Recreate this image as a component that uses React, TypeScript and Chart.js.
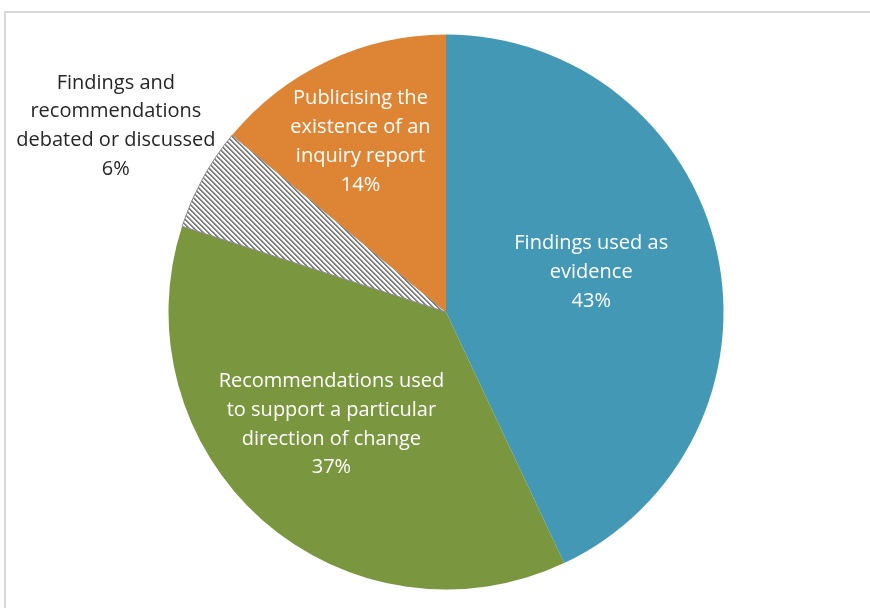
import React, { useEffect, useRef } from "react";
import { Chart, registerables } from "chart.js";

Chart.register(...registerables);

const categories = [
  "Findings used as evidence",
  "Recommendations used to support a particular direction of change",
  "Findings and recommendations debated or discussed",
  "Publicising the existence of an inquiry report",
];
const values = [43, 37, 6, 14];
const labelLines = [
  ["Findings used as", "evidence"],
  ["Recommendations used", "to support a particular", "direction of change"],
  ["Findings and", "recommendations", "debated or discussed"],
  ["Publicising the", "existence of an", "inquiry report"],
];

// label placement (style)
const labelRadius = [0.54, 0.57, 1.37, 0.69];
const labelShift = [[-1, -7], [-10, -6], [3, -3], [-4, 3]];
const labelColor = ["#ffffff", "#ffffff", "#262626", "#ffffff"];

function makeHatch(): CanvasPattern | string {
  const n = 5;
  const c = document.createElement("canvas");
  c.width = n;
  c.height = n;
  const g = c.getContext("2d");
  if (!g) return "#999";
  g.fillStyle = "#ffffff";
  g.fillRect(0, 0, n, n);
  for (let y = 0; y < n; y++) {
    for (let x = 0; x < n; x++) {
      const d = (((x - y) % n) + n) % n;
      if (d === 0 || d === 1) {
        g.fillStyle = "#7f7f7f";
        g.fillRect(x, y, 1, 1);
      } else if (d === 2) {
        g.fillStyle = "#d0d0d0";
        g.fillRect(x, y, 1, 1);
      }
    }
  }
  const p = g.createPattern(c, "repeat");
  return p || "#999";
}

const labelPlugin = {
  id: "sliceLabels",
  afterDatasetsDraw(chart: any) {
    const ctx = chart.ctx;
    const meta = chart.getDatasetMeta(0);
    const total = values.reduce((a, b) => a + b, 0);
    ctx.save();
    ctx.font = '20px "Open Sans", sans-serif';
    ctx.textAlign = "center";
    ctx.textBaseline = "middle";
    meta.data.forEach((arc: any, i: number) => {
      const p = arc.getProps(["x", "y", "startAngle", "endAngle", "outerRadius"], true);
      const mid = (p.startAngle + p.endAngle) / 2;
      const r = p.outerRadius * labelRadius[i];
      const cx = p.x + Math.cos(mid) * r + labelShift[i][0];
      const cy = p.y + Math.sin(mid) * r + labelShift[i][1];
      const lines = [...labelLines[i], Math.round((values[i] / total) * 100) + "%"];
      const lh = 28.7;
      const top = cy - ((lines.length - 1) * lh) / 2;
      ctx.fillStyle = labelColor[i];
      lines.forEach((t, k) => ctx.fillText(t, cx, top + k * lh));
    });
    ctx.restore();
  },
};

export default function App() {
  const ref = useRef<HTMLCanvasElement | null>(null);
  useEffect(() => {
    if (!ref.current) return;
    const chart = new Chart(ref.current, {
      type: "pie",
      data: {
        labels: categories,
        datasets: [
          {
            data: values,
            backgroundColor: ["#4398b6", "#7a963f", makeHatch() as any, "#dd8535"],
            borderColor: ["#4398b6", "#7a963f", "#8a8a8a", "#dd8535"],
            borderWidth: [0, 0, 1, 0],
          },
        ],
      },
      options: {
        responsive: false,
        animation: false,
        layout: { padding: { top: 34, bottom: 18, left: 100, right: 78 } },
        plugins: { legend: { display: false }, tooltip: { enabled: false } },
      },
      plugins: [labelPlugin],
    });
    return () => chart.destroy();
  }, []);
  return (
    <div style={{ position: "fixed", left: 0, top: 0, width: 870, height: 608, overflow: "hidden", background: "#fff" }}>
      <div style={{ position: "absolute", left: 4, top: 11, width: 900, height: 700, border: "2px solid #d9d9d9" }} />
      <canvas ref={ref} width={870} height={608} style={{ position: "absolute", left: 0, top: 0 }} />
    </div>
  );
}
